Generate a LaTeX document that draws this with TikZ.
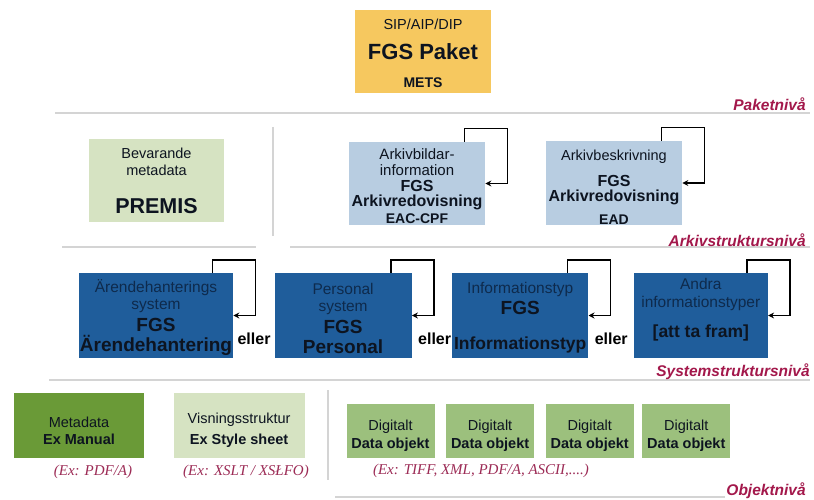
\documentclass[tikz,border=0pt]{standalone}
\usepackage{fontspec}
\setmainfont{Liberation Sans}
\newfontfamily\capfont{Liberation Serif}
\usetikzlibrary{arrows.meta,positioning}

\definecolor{pakyellow}{HTML}{F6C85F}
\definecolor{palegreen}{HTML}{D6E3C2}
\definecolor{paleblue}{HTML}{B8CDE1}
\definecolor{sysblue}{HTML}{1F5D9B}
\definecolor{systext}{HTML}{0E2A4C}
\definecolor{darktext}{HTML}{0D1420}
\definecolor{metagreen}{HTML}{6A9A37}
\definecolor{objgreen}{HTML}{9CC07D}
\definecolor{levelred}{HTML}{A3184B}
\definecolor{capred}{HTML}{9C2B55}
\definecolor{sepgray}{HTML}{D4D4D4}

\newcommand{\fs}[2]{\fontsize{#1}{#2}\selectfont}

\begin{document}
\begin{tikzpicture}[
        x = 1pt, y = -1pt, % pixel grid, y downwards
        > = {Stealth[length=6pt,width=6pt]}, % arrow head style
        node distance = 10pt,
        semithick % line style
        ]

        \tikzset{
        box/.style = {inner sep = 0pt, align = center, text = darktext},
        selfloop/.style = {->, line width = 1.6pt, draw = black},
        sepline/.style = {draw = sepgray, line width = 1.6pt},
        levelname/.style = {anchor = east, inner sep = 0pt, text = levelred,
            font = \fs{15.5}{17}\bfseries\itshape},
        example/.style = {inner sep = 0pt, text = capred,
            font = \capfont\fs{15}{17}\itshape},
        eller/.style = {anchor = base west, inner sep = 0pt,
            font = \fs{16}{18}\bfseries}
        }

        \useasboundingbox[fill = white] (0,0) rectangle (814,500);

        % package level
        \node[box, fill = pakyellow, minimum width = 136pt, minimum height = 83pt,
            font = \fs{14.5}{20}] (pkg) at (423,51.5)
            {\rule{0pt}{14pt}SIP/AIP/DIP\\[10pt]{\fs{22}{26}\bfseries FGS Paket}\\[8pt]{\fs{14}{17}\bfseries METS}};
        \draw[sepline] (55,113) -- (810,113);
        \node[levelname] (lvlpkg) at (806,104) {Paketnivå};

        % archive structure level
        \node[box, fill = palegreen, minimum width = 135pt, minimum height = 83pt,
            font = \fs{14.5}{17}] (premis) at (156.5,180.5)
            {Bevarande\\metadata\\[21pt]{\fs{21.5}{24}\bfseries PREMIS}};
        \node[box, fill = paleblue, minimum width = 136pt, minimum height = 83pt,
            font = \fs{15}{13}] (creator) at (417,183.5)
            {\rule{0pt}{16pt}Arkivbildar-\\[3pt]information\\[3pt]{\fs{16}{13}\bfseries FGS}\\[2pt]{\fs{16}{13}\bfseries Arkivredovisning}\\[2pt]{\fs{14}{13}\bfseries EAC-CPF}};
        \node[box, fill = paleblue, minimum width = 136pt, minimum height = 84pt,
            font = \fs{14.5}{14}] (descr) at (614,183)
            {\rule{0pt}{19pt}Arkivbeskrivning\\[10pt]{\fs{16}{14}\bfseries FGS}\\[1pt]{\fs{16}{14}\bfseries Arkivredovisning}\\[9pt]{\fs{14}{14}\bfseries EAD}};
        \draw[selfloop] ([xshift=-21pt]creator.north east) |- ([xshift=22pt,yshift=13pt]creator.north east) |- (creator.east);
        \draw[selfloop] ([xshift=-21pt]descr.north east) |- ([xshift=22pt,yshift=13pt]descr.north east) |- (descr.east);
        \draw[sepline] (273,127) -- (273,236);
        \draw[sepline] (62,247) -- (256,247);
        \draw[sepline] (290,247) -- (810,247);
        \node[levelname] (lvlarch) at (806,240) {Arkivstruktursnivå};

        % system structure level
        \tikzset{sysbox/.style = {box, fill = sysblue, minimum height = 85pt,
            font = \fs{15.5}{17}}}
        \node[sysbox, minimum width = 154pt] (case) at (156,315.5)
            {\rule{0pt}{17pt}\textcolor{systext}{Ärendehanterings}\\\textcolor{systext}{system}\\[5pt]{\fs{19}{20}\bfseries FGS}\\[3pt]{\fs{19}{20}\bfseries Ärendehantering}};
        \node[sysbox, minimum width = 137pt, right = 41pt of case] (staff)
            {\rule{0pt}{17pt}\textcolor{systext}{Personal}\\\textcolor{systext}{system}\\[5pt]{\fs{19}{20}\bfseries FGS}\\[3pt]{\fs{19}{20}\bfseries Personal}};
        \node[sysbox, minimum width = 136pt, right = 40pt of staff] (infotype)
            {\rule{0pt}{15pt}\textcolor{systext}{Informationstyp}\\[4pt]{\fs{19}{20}\bfseries FGS}\\[18pt]{\fs{17.5}{20}\bfseries Informationstyp}};
        \node[sysbox, minimum width = 134pt, right = 45pt of infotype] (other)
            {\textcolor{systext}{Andra}\\[1pt]\textcolor{systext}{informationstyper}\\[13pt]{\fs{17.5}{20}\bfseries [att ta fram]}\rule[-15pt]{0pt}{15pt}};
        \foreach \s in {case, staff, infotype, other}
            \draw[selfloop] ([xshift=-21pt]\s.north east) |- ([xshift=22pt,yshift=13pt]\s.north east) |- (\s.east);
        \node[eller] (or1) at ([xshift=4pt,yshift=14pt]case.south east) {eller};
        \node[eller] (or2) at ([xshift=6pt,yshift=14pt]staff.south east) {eller};
        \node[eller] (or3) at ([xshift=6pt,yshift=14pt]infotype.south east) {eller};
        \draw[sepline] (49,380) -- (810,380);
        \node[levelname] (lvlsys) at (810,372) {Systemstruktursnivå};

        % object level
        \node[box, fill = metagreen, minimum width = 130pt, minimum height = 65pt,
            font = \fs{14.5}{17}] (meta) at (79,425.5)
            {\rule{0pt}{22pt}Metadata\\[0pt]{\bfseries Ex Manual}};
        \node[box, fill = palegreen, minimum width = 131pt, minimum height = 65pt,
            font = \fs{14.5}{17}, right = 29pt of meta] (view)
            {\rule{0pt}{21pt}Visningsstruktur\\[4pt]{\bfseries Ex Style sheet}};
        \tikzset{objbox/.style = {box, fill = objgreen, minimum width = 88pt,
            minimum height = 54pt, font = \fs{14.5}{18}}}
        \node[objbox] (obj1) at (390.5,431) {\rule{0pt}{21pt}Digitalt\\{\bfseries Data objekt}};
        \node[objbox, right = 11pt of obj1] (obj2) {\rule{0pt}{21pt}Digitalt\\{\bfseries Data objekt}};
        \node[objbox, right = 11pt of obj2] (obj3) {\rule{0pt}{21pt}Digitalt\\{\bfseries Data objekt}};
        \node[objbox, right = 8pt of obj3] (obj4) {\rule{0pt}{21pt}Digitalt\\{\bfseries Data objekt}};
        \node[example] (exmeta) at (93,472) {(Ex: PDF/A)};
        \node[example] (exview) at (246,472) {(Ex: XSLT / XSŁFO)};
        \node[example] (exobj) at (481,471) {(Ex: TIFF, XML, PDF/A, ASCII,....)};
        \draw[sepline] (328,390) -- (328,480);
        \draw[sepline] (335,497) -- (725,497);
        \node[levelname] (lvlobj) at (806,491) {Objektnivå};

      \end{tikzpicture}
\end{document}
